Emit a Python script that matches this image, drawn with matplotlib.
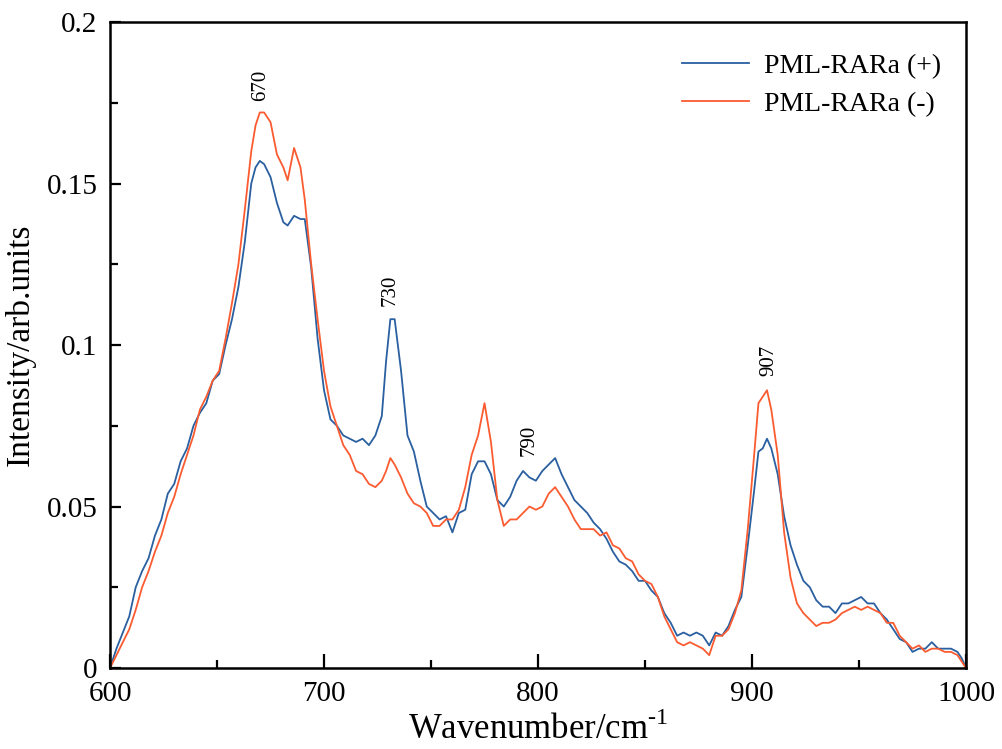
import matplotlib
matplotlib.use("Agg")
import matplotlib.pyplot as plt
from matplotlib.ticker import MultipleLocator, FuncFormatter

plt.rcParams['font.family'] = ['Liberation Serif', 'DejaVu Serif']
plt.rcParams['mathtext.fontset'] = 'custom'
plt.rcParams['mathtext.rm'] = 'Liberation Serif'

wavenumber = [600, 603, 606, 609, 612, 615, 618, 621, 624, 627, 630, 633, 636, 639, 642, 645,
              648, 651, 654, 657, 660, 663, 666, 668, 670, 672, 675, 678, 681, 683, 686, 689,
              691, 694, 697, 700, 703, 706, 709, 712, 715, 718, 721, 724, 727, 729, 731, 733,
              736, 739, 742, 745, 748, 751, 754, 757, 760, 763, 766, 769, 772, 775, 778, 781,
              784, 787, 790, 793, 796, 799, 802, 805, 808, 811, 814, 817, 820, 823, 826, 829,
              832, 835, 838, 841, 844, 847, 850, 853, 856, 859, 862, 865, 868, 871, 874, 877,
              880, 883, 886, 889, 892, 895, 898, 901, 903, 905, 907, 909, 912, 915, 918, 921,
              924, 927, 930, 933, 936, 939, 942, 945, 948, 951, 954, 957, 960, 963, 966, 969,
              972, 975, 978, 981, 984, 987, 990, 993, 996, 998, 1000]

pml_pos = [0.000, 0.006, 0.011, 0.016, 0.025, 0.030, 0.034, 0.041, 0.046, 0.054, 0.057, 0.064, 0.068, 0.075, 0.079, 0.082,
           0.089, 0.091, 0.100, 0.108, 0.118, 0.132, 0.150, 0.155, 0.157, 0.156, 0.152, 0.144, 0.138, 0.137, 0.140, 0.139,
           0.139, 0.124, 0.102, 0.086, 0.077, 0.075, 0.072, 0.071, 0.070, 0.071, 0.069, 0.072, 0.078, 0.095, 0.108, 0.108,
           0.092, 0.072, 0.067, 0.058, 0.050, 0.048, 0.046, 0.047, 0.042, 0.048, 0.049, 0.060, 0.064, 0.064, 0.060, 0.052,
           0.050, 0.053, 0.058, 0.061, 0.059, 0.058, 0.061, 0.063, 0.065, 0.060, 0.056, 0.052, 0.050, 0.048, 0.045, 0.043,
           0.040, 0.036, 0.033, 0.032, 0.030, 0.027, 0.027, 0.024, 0.022, 0.017, 0.014, 0.010, 0.011, 0.010, 0.011, 0.010,
           0.007, 0.011, 0.010, 0.013, 0.018, 0.022, 0.038, 0.055, 0.067, 0.068, 0.071, 0.068, 0.060, 0.047, 0.038, 0.032,
           0.027, 0.025, 0.021, 0.019, 0.019, 0.017, 0.020, 0.020, 0.021, 0.022, 0.020, 0.020, 0.017, 0.015, 0.012, 0.009,
           0.008, 0.005, 0.006, 0.006, 0.008, 0.006, 0.006, 0.006, 0.005, 0.003, 0.000]

pml_neg = [0.000, 0.004, 0.008, 0.012, 0.018, 0.025, 0.030, 0.036, 0.041, 0.048, 0.053, 0.060, 0.066, 0.072, 0.080, 0.084,
           0.089, 0.092, 0.102, 0.113, 0.125, 0.142, 0.160, 0.168, 0.172, 0.172, 0.169, 0.159, 0.155, 0.151, 0.161, 0.155,
           0.145, 0.125, 0.108, 0.092, 0.081, 0.075, 0.069, 0.066, 0.061, 0.060, 0.057, 0.056, 0.058, 0.061, 0.065, 0.063,
           0.059, 0.054, 0.051, 0.050, 0.048, 0.044, 0.044, 0.046, 0.046, 0.049, 0.056, 0.066, 0.072, 0.082, 0.070, 0.052,
           0.044, 0.046, 0.046, 0.048, 0.050, 0.049, 0.050, 0.054, 0.056, 0.053, 0.050, 0.046, 0.043, 0.043, 0.043, 0.041,
           0.042, 0.038, 0.037, 0.034, 0.033, 0.029, 0.027, 0.026, 0.022, 0.016, 0.012, 0.008, 0.007, 0.008, 0.007, 0.006,
           0.004, 0.010, 0.010, 0.012, 0.017, 0.024, 0.043, 0.066, 0.082, 0.084, 0.086, 0.080, 0.066, 0.042, 0.028, 0.020,
           0.017, 0.015, 0.013, 0.014, 0.014, 0.015, 0.017, 0.018, 0.019, 0.018, 0.019, 0.018, 0.017, 0.014, 0.014, 0.010,
           0.008, 0.006, 0.007, 0.005, 0.006, 0.006, 0.005, 0.005, 0.004, 0.002, 0.000]

peaks = [670, 730, 790, 907]
peak_x = [670.5, 731, 796, 908]
peak_y = [0.1755, 0.112, 0.0655, 0.0905]

fig = plt.figure(figsize=(10.02, 7.49), dpi=100)
ax = fig.add_axes([0.1098, 0.1081, 0.8543, 0.8625])

ax.plot(wavenumber, pml_pos, color='#2a5fa0', lw=1.3, label='PML-RARa (+)')
ax.plot(wavenumber, pml_neg, color='#fb5b30', lw=1.3, label='PML-RARa (-)')

for p, px, py in zip(peaks, peak_x, peak_y):
    ax.text(px, py, str(p), rotation=90, ha='center', va='bottom', fontsize=15)

ax.set_xlim(600, 1000)
ax.set_ylim(0, 0.2)
ax.xaxis.set_major_locator(MultipleLocator(100))
ax.xaxis.set_minor_locator(MultipleLocator(50))
ax.yaxis.set_major_locator(MultipleLocator(0.05))
ax.yaxis.set_minor_locator(MultipleLocator(0.025))
ax.yaxis.set_major_formatter(FuncFormatter(lambda v, pos: '%g' % round(v, 3)))
ax.tick_params(which='both', direction='in', labelsize=21, width=1.6)
ax.tick_params(which='major', length=10, pad=9)
ax.tick_params(which='minor', length=6)
ax.tick_params(axis='y', which='major', length=8)
for s in ax.spines.values():
    s.set_linewidth(1.8)

ax.set_xlabel('Wavenumber/cm$^{\\text{-1}}$', fontsize=25, labelpad=4)
ax.set_ylabel('Intensity/arb.units', fontsize=24, labelpad=8)

ax.legend(loc='upper right', frameon=False, fontsize=20, handlelength=2.4,
          bbox_to_anchor=(1.0, 0.99), labelspacing=0.45, handletextpad=0.55)

fig.savefig('out.png', dpi=100)
